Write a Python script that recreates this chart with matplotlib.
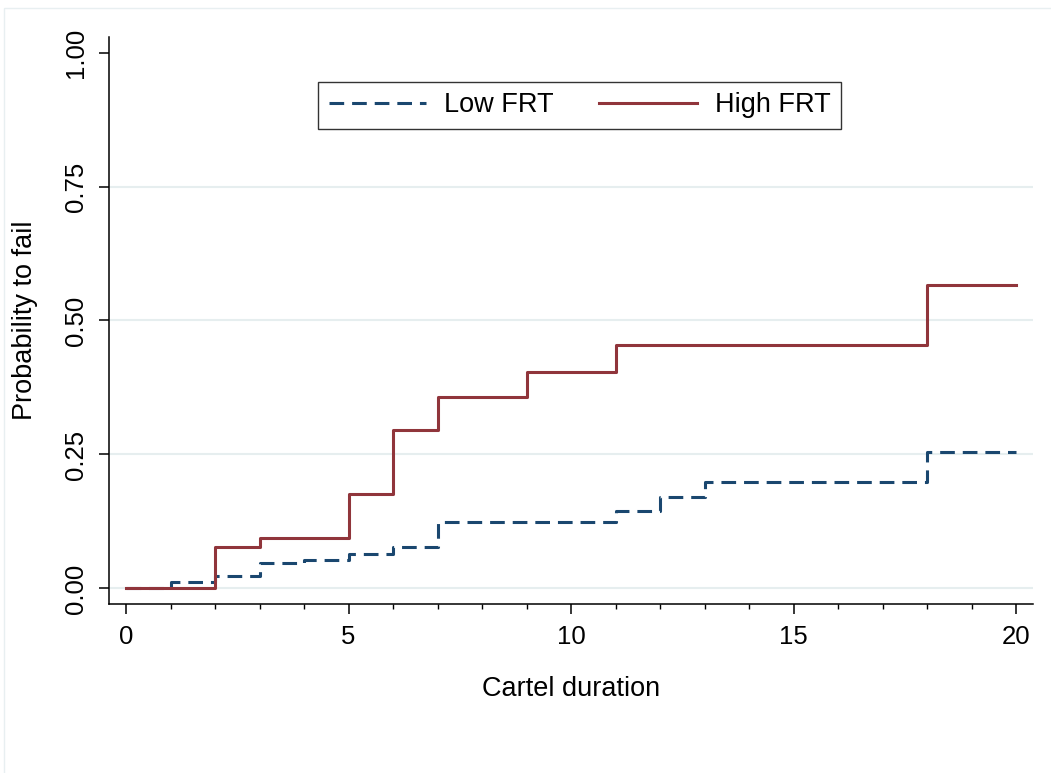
import matplotlib
matplotlib.use("Agg")
import matplotlib.pyplot as plt
from matplotlib.patches import Rectangle

# step functions (value holds from each time to the next)
low_t = [0, 1, 2, 3, 4, 5, 6, 7, 11, 12, 13, 18, 20]
low_p = [0.0, 0.0125, 0.023, 0.047, 0.054, 0.064, 0.077, 0.124, 0.145, 0.170, 0.199, 0.255, 0.255]

high_t = [0, 2, 3, 5, 6, 7, 9, 11, 18, 20]
high_p = [0.0, 0.078, 0.094, 0.176, 0.295, 0.357, 0.403, 0.455, 0.566, 0.566]

y_ticks = [0, 0.25, 0.5, 0.75, 1.0]
y_ticklabels = ["0.00", "0.25", "0.50", "0.75", "1.00"]
x_ticks = [0, 5, 10, 15, 20]

plt.rcParams['font.family'] = ['Liberation Sans', 'DejaVu Sans']

W, H = 1051, 773
fig = plt.figure(figsize=(W / 100, H / 100), dpi=100)
fig.patch.set_facecolor('white')
# faint outer frame (only top and left edges fall inside the image)
fig.patches.append(Rectangle((4 / W, -0.05), 1.2, 1 - 8 / H + 0.05, transform=fig.transFigure,
                             fill=False, edgecolor='#e8eff1', lw=1.0))

ax = fig.add_axes([109 / W, 1 - 604 / H, (1033 - 109) / W, (604 - 37) / H])

navy = '#1a476f'
maroon = '#90353b'

ax.step(low_t, low_p, where='post', color=navy, lw=2.2, dashes=(4.8, 2.6), label='Low FRT')
ax.step(high_t, high_p, where='post', color=maroon, lw=2.2, label='High FRT')

ax.set_xlim(-0.382, 20.38)
ax.set_ylim(-0.029, 1.029)

ax.set_yticks(y_ticks)
ax.set_yticklabels(y_ticklabels, rotation=90, va='center')
ax.set_xticks(x_ticks)
ax.set_xticks(range(0, 21), minor=True)

for y in y_ticks[:-1]:
    ax.axhline(y, color='#e6eeef', lw=1.5, zorder=0)

for s in ['top', 'right']:
    ax.spines[s].set_visible(False)
for s in ['left', 'bottom']:
    ax.spines[s].set_linewidth(1.1)

ax.tick_params(axis='both', which='major', direction='out', length=7, width=1.1, labelsize=18.5, pad=8)
ax.tick_params(axis='x', which='minor', direction='out', length=3.5, width=1.0)
ax.tick_params(axis='y', which='minor', left=False)

ax.set_xlabel('Cartel duration', fontsize=19.5)
ax.set_ylabel('Probability to fail', fontsize=19.5)
ax.xaxis.set_label_coords(0.5, -0.127)
ax.yaxis.set_label_coords(-0.077, 0.5)

leg = ax.legend(loc='center', bbox_to_anchor=(579.5 / W, 1 - 105.5 / H), bbox_transform=fig.transFigure,
                ncol=2, fontsize=19.5, frameon=True, fancybox=False, handlelength=3.6,
                handletextpad=0.65, columnspacing=1.7, borderpad=0.4)
leg.get_frame().set_edgecolor('black')
leg.get_frame().set_linewidth(1.0)

fig.savefig('out.png', dpi=100, facecolor='white')
